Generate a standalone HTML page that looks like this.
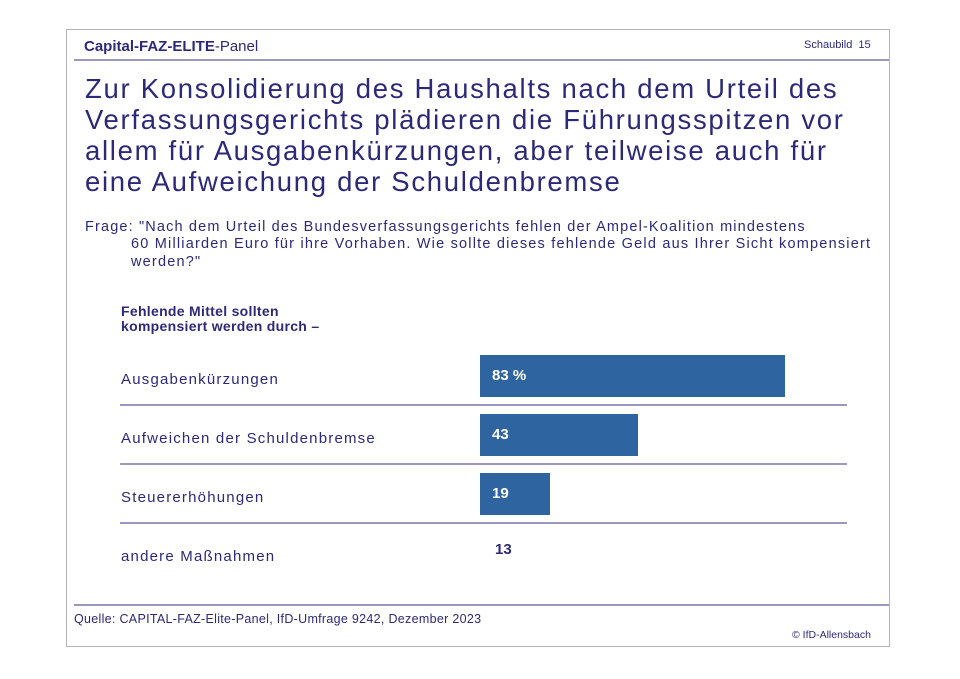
<!DOCTYPE html>
<html><head><meta charset="utf-8"><style>
body{margin:0;width:960px;height:679px;background:#fff;position:relative;overflow:hidden;font-family:"Liberation Sans",sans-serif;color:#2c2a78}
.a{position:absolute;white-space:nowrap}
.frame{position:absolute;left:66px;top:29px;width:822px;height:616px;border:1px solid #b4b4b8}
.hl{position:absolute;height:2px;background:#9a98bd}
.bar{position:absolute;background:#2e65a0;color:#fff;font-weight:bold;font-size:15px;line-height:42px;padding-left:12px;box-sizing:border-box}
.lab{position:absolute;left:121px;font-size:15px;letter-spacing:1.2px}
</style></head><body>
<div class="frame"></div>
<div class="a" style="left:84px;top:38px;font-size:15px"><b>Capital-FAZ-ELITE</b>-Panel</div>
<div class="a" style="left:804px;top:39px;font-size:11px">Schaubild&nbsp; 15</div>
<div class="hl" style="left:74px;top:59px;width:815px;height:2px"></div>
<div class="a" style="left:85px;top:73px;font-size:27.5px;line-height:31px;letter-spacing:1.7px">Zur Konsolidierung des Haushalts nach dem Urteil des<br>Verfassungsgerichts plädieren die Führungsspitzen vor<br>allem für Ausgabenkürzungen, aber teilweise auch für<br>eine Aufweichung der Schuldenbremse</div>
<div class="a" style="left:85px;top:219px;font-size:14.5px;line-height:17.5px;letter-spacing:1.15px">Frage: "Nach dem Urteil des Bundesverfassungsgerichts fehlen der Ampel-Koalition mindestens</div>
<div class="a" style="left:131px;top:236px;font-size:14.5px;line-height:17.5px;letter-spacing:1.2px">60 Milliarden Euro für ihre Vorhaben. Wie sollte dieses fehlende Geld aus Ihrer Sicht kompensiert<br>werden?"</div>
<div class="a" style="left:121px;top:304px;font-size:14px;font-weight:bold;line-height:15px;letter-spacing:0.3px">Fehlende Mittel sollten<br>kompensiert werden durch –</div>
<div class="lab" style="top:371px">Ausgabenkürzungen</div>
<div class="lab" style="top:430px">Aufweichen der Schuldenbremse</div>
<div class="lab" style="top:489px">Steuererhöhungen</div>
<div class="lab" style="top:548px">andere Maßnahmen</div>
<div class="bar" style="left:480px;top:355px;width:305px;height:42px">83 %</div>
<div class="bar" style="left:480px;top:414px;width:158px;height:42px">43</div>
<div class="bar" style="left:480px;top:473px;width:70px;height:42px">19</div>
<div class="a" style="left:495px;top:541px;font-size:15px;font-weight:bold">13</div>
<div class="hl" style="left:120px;top:404px;width:727px"></div>
<div class="hl" style="left:120px;top:463px;width:727px"></div>
<div class="hl" style="left:120px;top:522px;width:727px"></div>
<div class="hl" style="left:74px;top:604px;width:815px"></div>
<div class="a" style="left:74px;top:612px;font-size:12.5px;letter-spacing:0.3px">Quelle: CAPITAL-FAZ-Elite-Panel, IfD-Umfrage 9242, Dezember 2023</div>
<div class="a" style="left:792px;top:629px;font-size:10.5px">© IfD-Allensbach</div>
</body></html>
